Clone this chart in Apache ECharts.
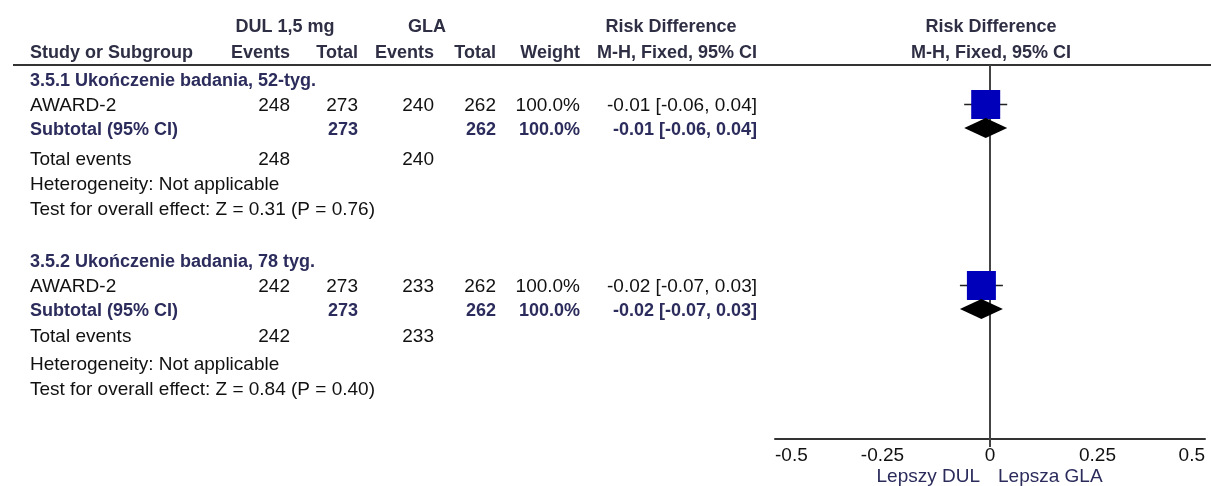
<!DOCTYPE html>
<html>
<head>
<meta charset="utf-8">
<title>Risk Difference – forest plot</title>
<script src="https://cdn.jsdelivr.net/npm/echarts@6/dist/echarts.min.js"></script>
<style>
  html, body { margin: 0; padding: 0; background: #fff; }
  #chart { width: 1211px; height: 486px; }
</style>
</head>
<body>
<div id="chart"></div>
<script>
// ---- data -------------------------------------------------------------
const groupTitles   = ['3.5.1 Ukończenie badania, 52-tyg.', '3.5.2 Ukończenie badania, 78 tyg.'];
const studyNames    = ['AWARD-2', 'AWARD-2'];
const dulEvents     = [248, 242];
const dulTotal      = [273, 273];
const glaEvents     = [240, 233];
const glaTotal      = [262, 262];
const studyWeight   = [100.0, 100.0];
const studyRD       = [-0.01, -0.02];
const studyLow      = [-0.06, -0.07];
const studyHigh     = [0.04, 0.03];
const subtotalWeight = [100.0, 100.0];
const subtotalRD    = [-0.01, -0.02];
const subtotalLow   = [-0.06, -0.07];
const subtotalHigh  = [0.04, 0.03];
const heterogeneity = ['Not applicable', 'Not applicable'];
const overallZ      = ['0.31', '0.84'];
const overallP      = ['0.76', '0.40'];
const axisTicks     = [-0.5, -0.25, 0, 0.25, 0.5];
const favoursLeft   = 'Lepszy DUL';
const favoursRight  = 'Lepsza GLA';

// ---- layout -----------------------------------------------------------
const FONT = '"Liberation Sans", Arial, sans-serif';
const REG = '19px ' + FONT;
const BOLD = 'bold 18px ' + FONT;
const INK = '#111';
const HEAD = '#2e2e44';
const SUB = '#2b2b5c';

const plotLeft = 775, plotRight = 1205, plotTop = 65, plotBottom = 439;
// column anchors (right edges) for the table
const col = { study: 30, dulEv: 290, dulTot: 358, glaEv: 434, glaTot: 496, weight: 580, ci: 757 };
// vertical rows of each subgroup: heading, study, subtotal, total events, heterogeneity, test
const groupRows = [
  [81, 106, 130, 160, 185, 210],
  [262, 287, 311, 337, 365, 390]
];

const fmt2 = v => (v < 0 ? '-' : '') + Math.abs(v).toFixed(2);
const ciText = (m, lo, hi) => fmt2(m) + ' [' + fmt2(lo) + ', ' + fmt2(hi) + ']';
const pct = w => w.toFixed(1) + '%';

const texts = [];
function txt(s, x, y, align, font, color) {
  texts.push({
    type: 'text', x: x, y: y, silent: true,
    style: { text: String(s), font: font || REG, fill: color || INK,
             align: align || 'left', verticalAlign: 'middle' }
  });
}

// header
txt('DUL 1,5 mg', 285, 27, 'center', BOLD, HEAD);
txt('GLA', 427, 27, 'center', BOLD, HEAD);
txt('Risk Difference', 671, 27, 'center', BOLD, HEAD);
txt('Risk Difference', 991, 27, 'center', BOLD, HEAD);
txt('Study or Subgroup', col.study, 53, 'left', BOLD, HEAD);
txt('Events', col.dulEv, 53, 'right', BOLD, HEAD);
txt('Total', col.dulTot, 53, 'right', BOLD, HEAD);
txt('Events', col.glaEv, 53, 'right', BOLD, HEAD);
txt('Total', col.glaTot, 53, 'right', BOLD, HEAD);
txt('Weight', col.weight, 53, 'right', BOLD, HEAD);
txt('M-H, Fixed, 95% CI', col.ci, 53, 'right', BOLD, HEAD);
txt('M-H, Fixed, 95% CI', 991, 53, 'center', BOLD, HEAD);

groupTitles.forEach((title, g) => {
  const r = groupRows[g];
  txt(title, col.study, r[0], 'left', BOLD, SUB);
  // study row
  txt(studyNames[g], col.study, r[1]);
  txt(dulEvents[g], col.dulEv, r[1], 'right');
  txt(dulTotal[g], col.dulTot, r[1], 'right');
  txt(glaEvents[g], col.glaEv, r[1], 'right');
  txt(glaTotal[g], col.glaTot, r[1], 'right');
  txt(pct(studyWeight[g]), col.weight, r[1], 'right');
  txt(ciText(studyRD[g], studyLow[g], studyHigh[g]), col.ci, r[1], 'right');
  // subtotal row
  txt('Subtotal (95% CI)', col.study, r[2], 'left', BOLD, SUB);
  txt(dulTotal[g], col.dulTot, r[2], 'right', BOLD, SUB);
  txt(glaTotal[g], col.glaTot, r[2], 'right', BOLD, SUB);
  txt(pct(subtotalWeight[g]), col.weight, r[2], 'right', BOLD, SUB);
  txt(ciText(subtotalRD[g], subtotalLow[g], subtotalHigh[g]), col.ci, r[2], 'right', BOLD, SUB);
  // totals and tests
  txt('Total events', col.study, r[3]);
  txt(dulEvents[g], col.dulEv, r[3], 'right');
  txt(glaEvents[g], col.glaEv, r[3], 'right');
  txt('Heterogeneity: ' + heterogeneity[g], col.study, r[4]);
  txt('Test for overall effect: Z = ' + overallZ[g] + ' (P = ' + overallP[g] + ')', col.study, r[5]);
});

txt(favoursLeft, 980, 477, 'right', REG, SUB);
txt(favoursRight, 998, 477, 'left', REG, SUB);

// rule under the column headers
texts.push({
  type: 'line', silent: true,
  shape: { x1: 13, y1: plotTop, x2: 1211, y2: plotTop },
  style: { stroke: '#333', lineWidth: 2 }
});

// ---- series data ------------------------------------------------------
const studyData = studyRD.map((m, i) => [m, groupRows[i][1] - 1.5, studyLow[i], studyHigh[i], studyWeight[i]]);
const subtotalData = subtotalRD.map((m, i) => [m, groupRows[i][2] - 2, subtotalLow[i], subtotalHigh[i]]);

const SQUARE_MAX = 29;

const chart = echarts.init(document.getElementById('chart'), null, { renderer: 'canvas' });
chart.setOption({
  animation: false,
  backgroundColor: '#fff',
  grid: { left: plotLeft, right: 1211 - plotRight, top: plotTop, bottom: 486 - plotBottom, containLabel: false },
  xAxis: {
    type: 'value', min: axisTicks[0], max: axisTicks[axisTicks.length - 1], interval: 0.25,
    position: 'bottom',
    axisLine: { show: true, onZero: false, lineStyle: { color: '#333', width: 2 } },
    axisTick: { show: false },
    splitLine: { show: false },
    axisLabel: {
      color: INK, fontFamily: FONT, fontSize: 19, margin: 7,
      alignMinLabel: 'left', alignMaxLabel: 'right',
      formatter: v => String(v)
    }
  },
  yAxis: { type: 'value', inverse: true, min: plotTop, max: plotBottom, show: false },
  graphic: { elements: texts },
  series: [
    {
      // line of no effect
      type: 'custom', silent: true, clip: false, z: 1,
      data: [[0]],
      renderItem: (params, api) => {
        const top = api.coord([api.value(0), plotTop]);
        const bot = api.coord([api.value(0), plotBottom]);
        return { type: 'line', shape: { x1: top[0], y1: top[1], x2: bot[0], y2: bot[1] + 8 },
                 style: { stroke: '#444', lineWidth: 2 } };
      }
    },
    {
      // individual study: CI whisker and weighted square
      type: 'custom', silent: true, z: 3,
      data: studyData,
      renderItem: (params, api) => {
        const c = api.coord([api.value(0), api.value(1)]);
        const lo = api.coord([api.value(2), api.value(1)]);
        const hi = api.coord([api.value(3), api.value(1)]);
        const s = SQUARE_MAX * Math.sqrt(api.value(4) / 100);
        return {
          type: 'group',
          children: [
            { type: 'line', shape: { x1: lo[0], y1: c[1], x2: hi[0], y2: c[1] }, style: { stroke: '#222', lineWidth: 1.5 } },
            { type: 'rect', shape: { x: c[0] - s / 2, y: c[1] - s / 2, width: s, height: s }, style: { fill: '#0000bb' } }
          ]
        };
      }
    },
    {
      // pooled subtotal diamond
      type: 'custom', silent: true, z: 3,
      data: subtotalData,
      renderItem: (params, api) => {
        const c = api.coord([api.value(0), api.value(1)]);
        const lo = api.coord([api.value(2), api.value(1)]);
        const hi = api.coord([api.value(3), api.value(1)]);
        const h = 10;
        return {
          type: 'polygon',
          shape: { points: [[lo[0], c[1]], [c[0], c[1] - h], [hi[0], c[1]], [c[0], c[1] + h]] },
          style: { fill: '#000' }
        };
      }
    }
  ]
});
</script>
</body>
</html>
